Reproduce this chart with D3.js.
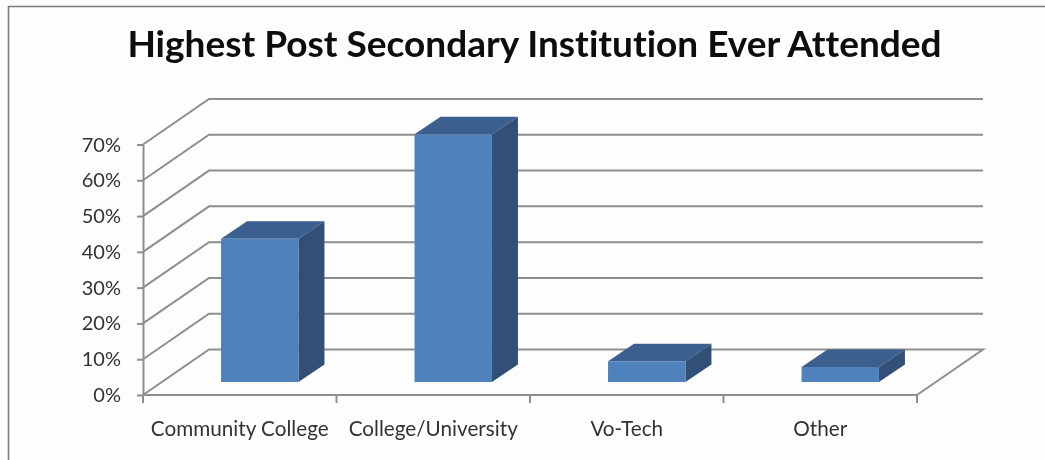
<!DOCTYPE html>
<html><head><meta charset="utf-8">
<script src="https://cdn.jsdelivr.net/npm/d3@7/dist/d3.min.js"></script>
<style>html,body{margin:0;padding:0;background:#fdfdfd}svg{display:block}text{font-variant-ligatures:none}</style>
</head><body><svg id="c" width="1045" height="460"></svg>
<script>
const titleText = "Highest Post Secondary Institution Ever Attended";
const categories = ["Community College","College/University","Vo-Tech","Other"];
const values = [0.40,0.692,0.058,0.042];
const yTicks = [0,0.1,0.2,0.3,0.4,0.5,0.6,0.7];

const svg = d3.select("#c");
const font = "Lato,'Open Sans',sans-serif";
const defs = svg.append("defs");
defs.append("filter").attr("id","soft").attr("x","-5%").attr("y","-5%").attr("width","110%").attr("height","110%")
  .append("feGaussianBlur").attr("stdDeviation",0.5);
defs.append("filter").attr("id","softText").attr("x","-5%").attr("y","-20%").attr("width","110%").attr("height","140%")
  .append("feGaussianBlur").attr("stdDeviation",0.4);

const y = d3.scaleLinear().domain([0,0.7]).range([395,144.5]);
const x = d3.scaleBand().domain(categories).range([143,917]).paddingInner(0).paddingOuter(0);
const depth = {dx:66, dy:-45.5};
const barDepth = {dx:26, dy:-17.5};
const floorShift = {dx:19, dy:-13};
const barW = x.bandwidth()*0.4;
const gridCol = "#8e8e8e";
const gridW = 2;

// frame
svg.append("path").attr("d","M8.5,460V6.5H1045").attr("fill","none").attr("stroke","#7c7c7c").attr("stroke-width",1.6);

const g = svg.append("g").attr("filter","url(#soft)");
// gridlines: front-left diagonal and back wall
const grid = g.append("g").attr("fill","none").attr("stroke",gridCol).attr("stroke-width",gridW);
grid.selectAll("path").data(yTicks).join("path")
  .attr("d",t=>{
    const p = d3.path();
    p.moveTo(x.range()[0],y(t));
    p.lineTo(x.range()[0]+depth.dx,y(t)+depth.dy);
    p.lineTo(x.range()[1]+depth.dx,y(t)+depth.dy);
    if(t===0) p.lineTo(x.range()[1],y(t));
    return p.toString();
  });

// y axis
const yAxis = g.append("g").attr("transform",`translate(${x.range()[0]},0)`)
  .call(d3.axisLeft(y).tickValues(yTicks).tickSize(6).tickFormat(d3.format(".0%")).tickSizeOuter(0));
yAxis.selectAll("path,line").attr("stroke",gridCol).attr("stroke-width",gridW);
yAxis.selectAll("text").remove();

// x axis line + boundary ticks
const xAxis = g.append("g").attr("transform",`translate(0,${y(0)})`);
xAxis.append("line").attr("x1",x.range()[0]).attr("x2",x.range()[1]).attr("stroke",gridCol).attr("stroke-width",gridW);
const bounds = categories.map(c=>x(c)).concat([x.range()[1]]);
xAxis.selectAll("line.t").data(bounds).join("line").attr("class","t")
  .attr("x1",d=>d).attr("x2",d=>d).attr("y1",0).attr("y2",8)
  .attr("stroke",gridCol).attr("stroke-width",gridW);

// bars
const bars = g.append("g").selectAll("g").data(categories.map((c,i)=>({c,v:values[i]}))).join("g");
const bx0 = d=>x(d.c)+x.bandwidth()/2-barW/2+floorShift.dx+1;
const bx1 = d=>bx0(d)+barW;
const by0 = ()=>y(0)+floorShift.dy;
const by1 = d=>y(d.v)+floorShift.dy;
const poly = pts => "M"+pts.map(p=>p.join(",")).join("L")+"Z";
bars.append("path").attr("fill","#3b5f8e").attr("d",d=>poly([
  [bx0(d),by1(d)],[bx1(d),by1(d)],[bx1(d)+barDepth.dx,by1(d)+barDepth.dy],[bx0(d)+barDepth.dx,by1(d)+barDepth.dy]]));
bars.append("path").attr("fill","#305078").attr("d",d=>poly([
  [bx1(d),by1(d)],[bx1(d),by0()],[bx1(d)+barDepth.dx,by0()+barDepth.dy],[bx1(d)+barDepth.dx,by1(d)+barDepth.dy]]));
bars.append("rect").attr("fill","#4f81bd")
  .attr("x",bx0).attr("y",by1).attr("width",barW).attr("height",d=>by0()-by1(d));

// texts
const t = svg.append("g").attr("filter","url(#softText)");
t.append("text").text(titleText).attr("x",534.5).attr("y",57).attr("text-anchor","middle")
  .attr("font-family",font).attr("font-weight",700).attr("font-size",37).attr("fill","#0a0a0a");
t.selectAll("text.y").data(yTicks).join("text").attr("class","y")
  .text(d3.format(".0%")).attr("x",121).attr("y",d=>y(d)+7).attr("text-anchor","end")
  .attr("font-family",font).attr("font-size",20).attr("fill","#333");
t.selectAll("text.x").data(categories).join("text").attr("class","x")
  .text(d=>d).attr("x",d=>x(d)+x.bandwidth()/2).attr("y",436).attr("text-anchor","middle")
  .attr("font-family",font).attr("font-size",20.7).attr("fill","#333");
</script></body></html>
